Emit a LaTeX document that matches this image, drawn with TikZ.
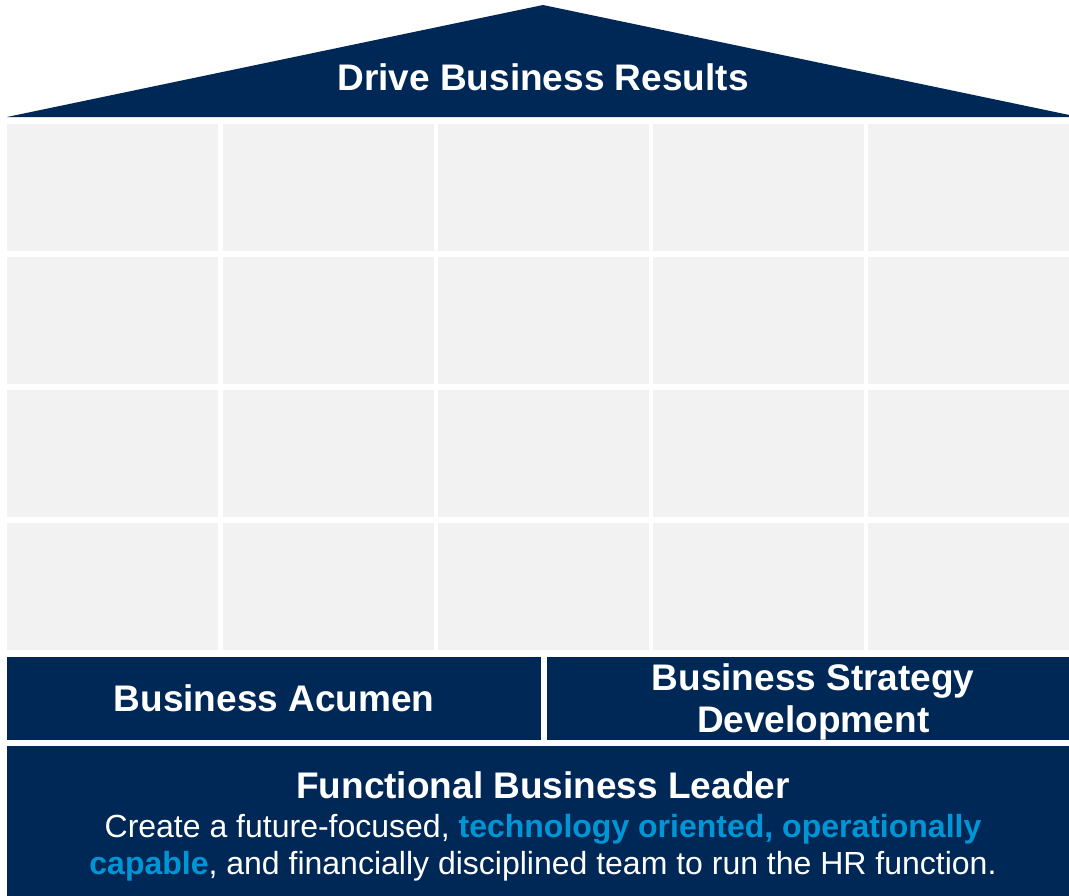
\documentclass[tikz,border=0pt]{standalone}
\usepackage{fontspec}
\setmainfont{Liberation Sans}
\definecolor{navy}{RGB}{0,40,86}
\definecolor{techblue}{RGB}{0,150,214}
\definecolor{cellgray}{RGB}{242,242,242}

\begin{document}
\begin{tikzpicture}[x=1pt, y=-1pt,
title/.style = {text=white, inner sep=0pt, align=center, font=\bfseries\fontsize{37}{42}\selectfont},
cell/.style = {rectangle, fill=cellgray, anchor=north west, inner sep=0pt, minimum width=211pt, minimum height=126.5pt},
bar/.style = {title, rectangle, fill=navy, anchor=north west, minimum height=83pt},
body/.style = {text=white, anchor=base, inner sep=0pt, font=\fontsize{32}{37}\selectfont}]

\useasboundingbox (0,0) rectangle (1069,895);
\clip (0,0) rectangle (1069,895);

% roof
\coordinate (eave-l) at (7,117);
\coordinate (ridge) at (543,5);
\coordinate (eave-r) at (1079,117);
\fill [navy] (eave-l) -- (ridge) -- (eave-r) -- cycle;
\node [title, anchor=base] (roof) at (543,90) {Drive Business Results};

% 4 x 5 grid of empty cells
\foreach \r in {0,...,3}
  \foreach \c in {0,...,4}
    \node [cell] (cell-\r-\c) at ({7+215.3*\c},{124+133*\r}) {};

% pillars
\node [bar, minimum width=534pt] (acumen) at (7,657) {Business Acumen};
\node [bar, minimum width=532pt] (strategy) at (547,657) {};
\node [title] (strategy-text) at ([yshift=-3pt]strategy.center) {Business Strategy\\Development};

% foundation
\node [bar, minimum width=1072pt, minimum height=200pt] (leader) at (7,746) {};
\node [title, anchor=base] (leader-title) at (543,798) {Functional Business Leader};
\node [body] (leader-line1) at (543,837) {Create a future-focused, \textcolor{techblue}{\bfseries technology oriented, operationally}};
\node [body] (leader-line2) at (543,874) {\textcolor{techblue}{\bfseries capable}, and financially disciplined team to run the HR function.};
\end{tikzpicture}
\end{document}
